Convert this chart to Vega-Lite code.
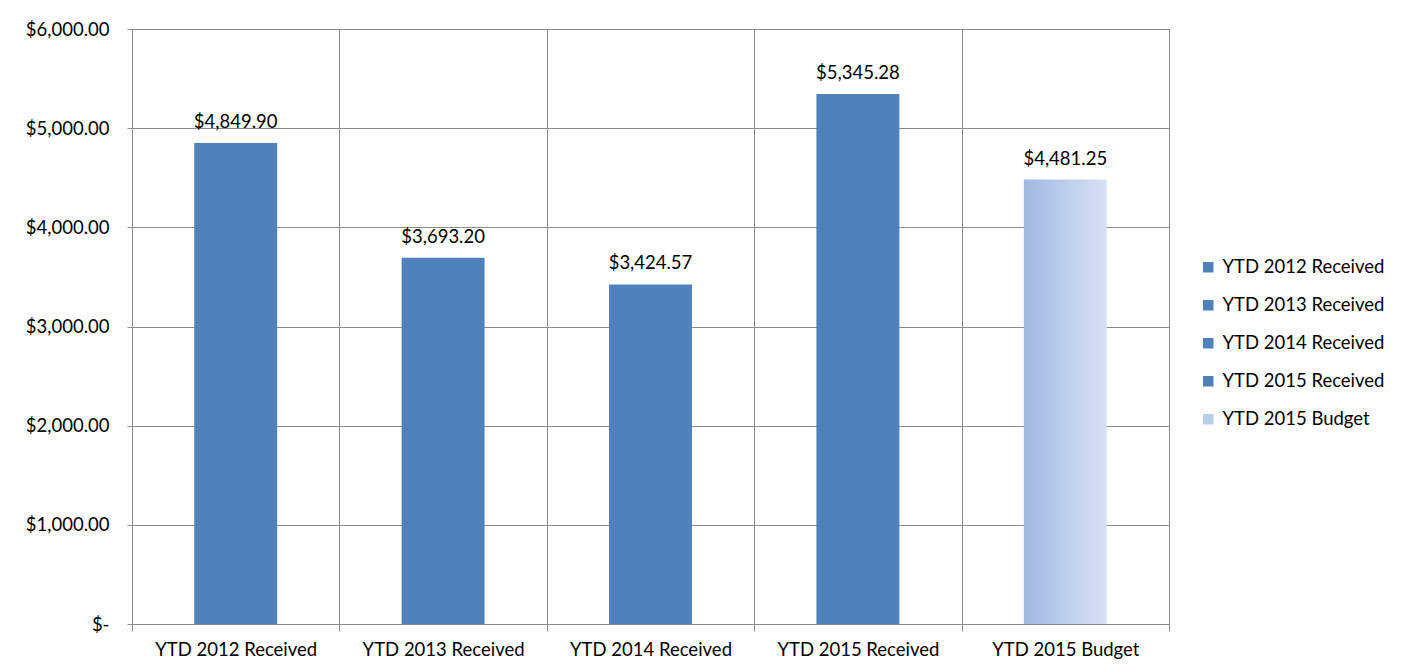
{
  "$schema": "https://vega.github.io/schema/vega-lite/v6.json",
  "width": 1037,
  "height": 595,
  "autosize": "none",
  "padding": {"left": 132, "top": 29, "right": 239, "bottom": 47},
  "background": "white",
  "config": {
    "font": "Lato",
    "view": {"stroke": "#8c8c8c", "strokeWidth": 1},
    "axis": {
      "gridColor": "#8c8c8c",
      "gridOpacity": 1,
      "domainColor": "#8c8c8c",
      "tickColor": "#8c8c8c",
      "labelColor": "#000000",
      "labelFontSize": 18.5,
      "labelFont": "Lato"
    }
  },
  "data": {
    "values": [
      {"category": "YTD 2012 Received", "amount": 4849.90, "kind": "received"},
      {"category": "YTD 2013 Received", "amount": 3693.20, "kind": "received"},
      {"category": "YTD 2014 Received", "amount": 3424.57, "kind": "received"},
      {"category": "YTD 2015 Received", "amount": 5345.28, "kind": "received"},
      {"category": "YTD 2015 Budget", "amount": 4481.25, "kind": "budget"}
    ]
  },
  "encoding": {
    "x": {
      "field": "category",
      "type": "nominal",
      "sort": null,
      "scale": {"paddingInner": 0, "paddingOuter": 0},
      "axis": {
        "title": null,
        "labelAngle": 0,
        "tickBand": "extent",
        "grid": true,
        "tickSize": 7,
        "labelPadding": 9
      }
    },
    "y": {
      "field": "amount",
      "type": "quantitative",
      "scale": {"domain": [0, 6000], "nice": false},
      "axis": {
        "title": null,
        "values": [0, 1000, 2000, 3000, 4000, 5000, 6000],
        "labelExpr": "datum.value == 0 ? '$-\u00a0\u00a0' : '$' + format(datum.value, ',.2f')",
        "grid": true,
        "tickSize": 5,
        "labelPadding": 18
      }
    }
  },
  "layer": [
    {
      "transform": [{"filter": "datum.kind == 'received'"}],
      "mark": {"type": "bar", "width": {"band": 0.4}},
      "encoding": {
        "color": {
          "field": "category",
          "type": "nominal",
          "scale": {
            "domain": ["YTD 2012 Received", "YTD 2013 Received", "YTD 2014 Received", "YTD 2015 Received", "YTD 2015 Budget"],
            "range": ["#4F81BD", "#4F81BD", "#4F81BD", "#4F81BD", "#BCCDEB"]
          },
          "legend": {
            "title": null,
            "orient": "none",
            "legendX": 1067,
            "legendY": 229,
            "symbolType": "square",
            "symbolSize": 110,
            "symbolStrokeWidth": 0,
            "labelFontSize": 18.5,
            "labelFont": "Lato",
            "labelColor": "#000000",
            "labelLimit": 400,
            "labelOffset": 5,
            "rowPadding": 19,
            "encode": {
              "symbols": {
                "update": {
                  "fill": [
                    {
                      "test": "datum.label == 'YTD 2015 Budget'",
                      "value": {
                        "gradient": "linear",
                        "x1": 0, "y1": 0, "x2": 1, "y2": 1,
                        "stops": [
                          {"offset": 0, "color": "#A1B9E4"},
                          {"offset": 1, "color": "#E3EAF6"}
                        ]
                      }
                    },
                    {"value": "#4F81BD"}
                  ]
                }
              }
            }
          }
        }
      }
    },
    {
      "transform": [{"filter": "datum.kind == 'budget'"}],
      "mark": {
        "type": "bar",
        "width": {"band": 0.4},
        "color": {
          "gradient": "linear",
          "x1": 0, "y1": 0, "x2": 1, "y2": 0,
          "stops": [
            {"offset": 0, "color": "#A1B9E4"},
            {"offset": 1, "color": "#D7E1F2"}
          ]
        }
      }
    },
    {
      "mark": {"type": "text", "baseline": "alphabetic", "dy": -15, "fontSize": 18.5, "font": "Lato", "color": "#000000"},
      "encoding": {
        "text": {"field": "amount", "type": "quantitative", "format": "$,.2f"}
      }
    }
  ]
}
